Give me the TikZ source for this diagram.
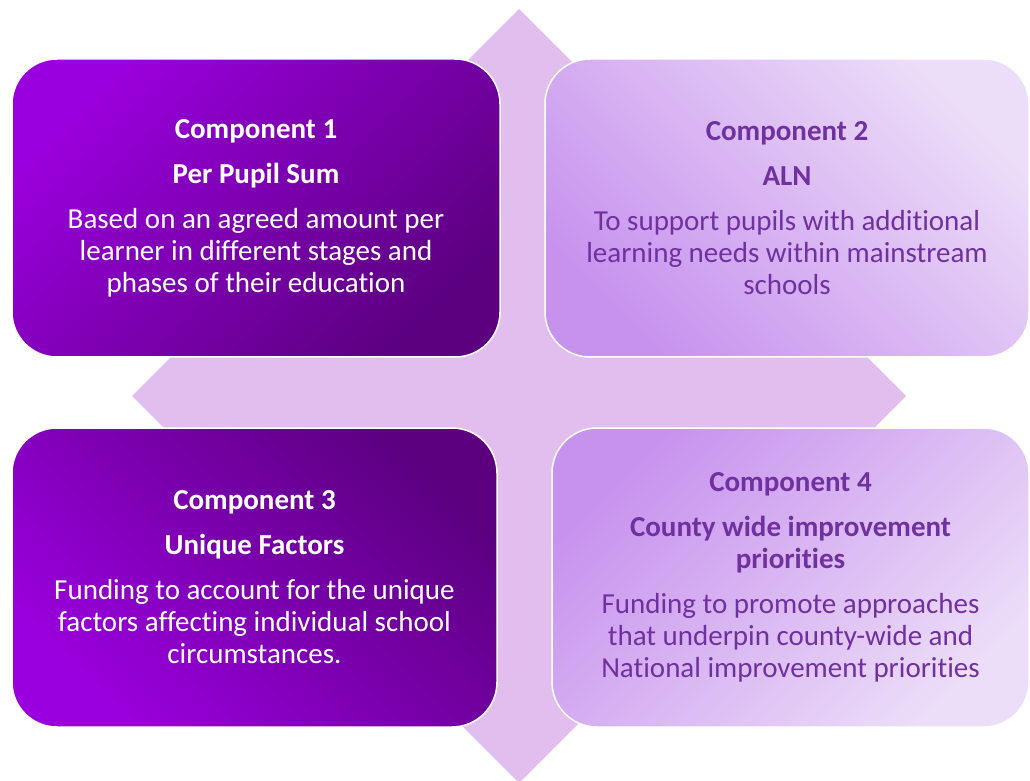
\documentclass[tikz,border=0pt]{standalone}
\usepackage{fontspec}
\setmainfont{Carlito}[RawFeature={-liga}]
\definecolor{diam}{HTML}{E2BEEE}
\definecolor{txtpurple}{HTML}{7030A0}
\definecolor{darkA}{HTML}{9A00DD}
\definecolor{darkB}{HTML}{5C0080}
\definecolor{lightA}{HTML}{C792EE}
\definecolor{lightB}{HTML}{ECDDF8}
\begin{document}
\begin{tikzpicture}[x=1pt,y=1pt,
  box/.style={rectangle, rounded corners=45pt, draw=white, line width=1.5pt,
    inner sep=0pt, align=center, font=\fontsize{29}{32}\selectfont},
  darkbox/.style={box, text=white},
  lightbox/.style={box, text=txtpurple}]
\useasboundingbox (0,0) rectangle (1030,780);
\fill[diam] (519,771) -- (906,384) -- (519,-3) -- (132,384) -- cycle;
\node[darkbox, minimum width=488pt, minimum height=298pt,
  top color=darkA, bottom color=darkB, shading angle=45] (c1) at (256,572)
  {\textbf{Component 1}\\[13pt]\textbf{Per Pupil Sum}\\[13pt]Based on an agreed amount per\\learner in different stages and\\phases of their education};
\node[lightbox, minimum width=484pt, minimum height=298pt,
  top color=lightB, bottom color=lightA, shading angle=-45] (c2) at (787,572)
  {\textbf{Component 2}\\[13pt]\textbf{ALN}\\[13pt]To support pupils with additional\\learning needs within mainstream\\schools};
\node[darkbox, minimum width=485pt, minimum height=299pt,
  top color=darkB, bottom color=darkA, shading angle=-45] (c3) at (254.5,202.5)
  {\textbf{Component 3}\\[13pt]\textbf{Unique Factors}\\[13pt]Funding to account for the unique\\factors affecting individual school\\circumstances.};
\node[lightbox, minimum width=477pt, minimum height=299pt,
  top color=lightA, bottom color=lightB, shading angle=45] (c4) at (790.5,202.5)
  {\textbf{Component 4}\\[13pt]\textbf{County wide improvement}\\\textbf{priorities}\\[13pt]Funding to promote approaches\\that underpin county-wide and\\National improvement priorities};
\end{tikzpicture}
\end{document}
